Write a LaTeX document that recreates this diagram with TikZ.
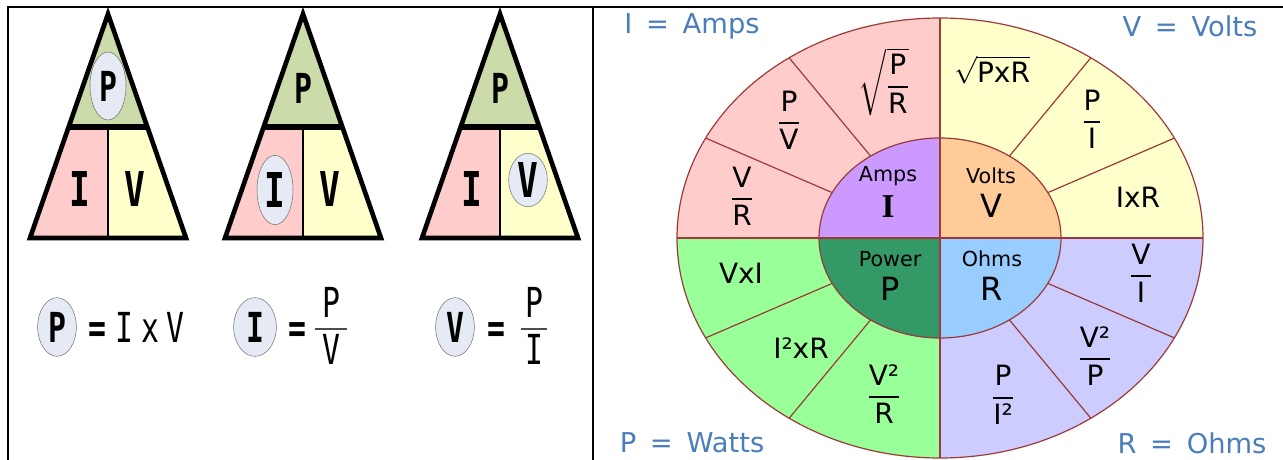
\documentclass[tikz,border=0pt]{standalone}
\usepackage{amsmath}
\usepackage{fontspec}
\setmainfont{DejaVu Sans}
\newfontfamily\monofont[FakeStretch=0.72]{DejaVu Sans Mono}
\newfontfamily\serifbold{Liberation Serif}
\usetikzlibrary{shapes.geometric}

\definecolor{topgreen}{HTML}{CBDBA9}
\definecolor{lowpink}{HTML}{FFCCCC}
\definecolor{lowyellow}{HTML}{FFFFCC}
\definecolor{ringfill}{HTML}{E6EAF4}
\definecolor{wheelred}{HTML}{9C3A3A}
\definecolor{ampsq}{HTML}{FFCCCC}
\definecolor{voltsq}{HTML}{FFFFCC}
\definecolor{wattsq}{HTML}{99FF99}
\definecolor{ohmsq}{HTML}{CCCCFF}
\definecolor{ampsc}{HTML}{CC99FF}
\definecolor{voltsc}{HTML}{FFCC99}
\definecolor{wattsc}{HTML}{339966}
\definecolor{ohmsc}{HTML}{99CCFF}
\definecolor{unitblue}{HTML}{4A7EBB}

\newcommand{\frc}[2]{\genfrac{}{}{1.3pt}{0}{\hbox{#1}}{\hbox{#2}}}

\begin{document}
\begin{tikzpicture}[x=0.75pt,y=0.75pt,
  frame/.style={line width=1.5pt},
  triline/.style={line width=3.5pt,line join=miter},
  trilet/.style={font=\monofont\bfseries\fontsize{36}{36}\selectfont,inner sep=0pt},
  toplet/.style={font=\monofont\bfseries\fontsize{31}{31}\selectfont,inner sep=0pt},
  ringed/.style={ellipse,draw=black!55,fill=ringfill,thin,minimum width=27pt,minimum height=51pt},
  eqlet/.style={font=\monofont\fontsize{31}{31}\selectfont,inner sep=0pt},
  eqbold/.style={font=\monofont\bfseries\fontsize{31}{31}\selectfont,inner sep=0pt},
  smallring/.style={ellipse,draw=black!55,fill=ringfill,thin,minimum width=29pt,minimum height=44pt},
  wline/.style={draw=wheelred,line width=0.9pt},
  sector/.style={font=\fontsize{21}{24}\selectfont,inner sep=0pt},
  core/.style={font=\fontsize{15.5}{18}\selectfont,inner sep=0pt},
  coreletter/.style={font=\fontsize{24}{26}\selectfont,inner sep=0pt},
  unit/.style={font=\fontsize{20.5}{24}\selectfont,text=unitblue,inner sep=0pt}
]
\useasboundingbox (0,0) rectangle (1283,-460);

% table lines
\draw[frame] (8,-460) -- (8,-7) -- (1283,-7);
\draw[frame] (593,-7) -- (593,-460);

% the three triangles
\foreach \cx in {108,303,500}
{
\fill[topgreen] (\cx,-14) -- (\cx-41,-127) -- (\cx+41,-127) -- cycle;
\fill[lowpink] (\cx-41,-127) -- (\cx,-127) -- (\cx,-238) -- (\cx-78,-238) -- cycle;
\fill[lowyellow] (\cx,-127) -- (\cx+41,-127) -- (\cx+78,-238) -- (\cx,-238) -- cycle;
\draw[line width=2.2pt] (\cx,-127) -- (\cx,-238);
\draw[line width=4.5pt] (\cx-41,-127) -- (\cx+41,-127);
\draw[triline] (\cx,-14) -- (\cx+78,-238) -- (\cx-78,-238) -- cycle;
}

% letters in the triangles
\node[toplet,ringed] (t1p) at (108,-86) {P};
\node[trilet] (t1i) at (80,-189) {I};
\node[trilet] (t1v) at (135,-189) {V};
\node[toplet] (t2p) at (303,-88) {P};
\node[trilet,ringed,minimum height=52pt] (t2i) at (275,-190) {I};
\node[trilet] (t2v) at (330,-189) {V};
\node[toplet] (t3p) at (500,-88) {P};
\node[trilet] (t3i) at (472,-189) {I};
\node[trilet,ringed,minimum width=29pt,minimum height=40pt] (t3v) at (528,-180) {V};

% formulas under the triangles
\node[eqbold,smallring] (fp) at (57,-327) {P};
\node[eqbold,anchor=base] (fpeq) at (97,-342) {=};
\node[eqlet,anchor=base] (fpi) at (124,-342) {I};
\node[eqlet,anchor=base] (fpx) at (150,-342) {x};
\node[eqlet,anchor=base] (fpv) at (175,-342) {V};

\node[eqbold,smallring,minimum width=32pt] (fi) at (255,-327) {I};
\node[eqbold,anchor=base] (fieq) at (297,-342) {=};
\node[eqlet,anchor=base] (fin) at (331,-317) {P};
\draw[line width=2pt,black!70] (315,-329) -- (347,-329);
\node[eqlet,anchor=base] (fid) at (331,-364) {V};

\node[eqbold,smallring] (fv) at (455,-327) {V};
\node[eqbold,anchor=base] (fveq) at (496,-342) {=};
\node[eqlet,anchor=base] (fvn) at (534,-317) {P};
\draw[line width=2pt,black!70] (521,-329) -- (547,-329);
\node[eqlet,anchor=base] (fvd) at (534,-364) {I};

% wheel: outer quarters
\fill[ampsq] (940,-238) -- (677,-238) arc[start angle=180,end angle=90,x radius=263,y radius=220] -- cycle;
\fill[voltsq] (940,-238) -- (940,-18) arc[start angle=90,end angle=0,x radius=263,y radius=220] -- cycle;
\fill[wattsq] (940,-238) -- (677,-238) arc[start angle=180,end angle=270,x radius=263,y radius=220] -- cycle;
\fill[ohmsq] (940,-238) -- (940,-458) arc[start angle=270,end angle=360,x radius=263,y radius=220] -- cycle;

% wheel: inner quarters
\fill[ampsc] (940,-238) -- (819,-238) arc[start angle=180,end angle=90,x radius=121,y radius=100] -- cycle;
\fill[voltsc] (940,-238) -- (940,-138) arc[start angle=90,end angle=0,x radius=121,y radius=100] -- cycle;
\fill[wattsc] (940,-238) -- (819,-238) arc[start angle=180,end angle=270,x radius=121,y radius=100] -- cycle;
\fill[ohmsc] (940,-238) -- (940,-338) arc[start angle=270,end angle=360,x radius=121,y radius=100] -- cycle;

% wheel lines
\foreach \t in {27,55,125,153,207,235,305,333}
{
\draw[wline] ({940+121*cos(\t)},{-238+100*sin(\t)}) -- ({940+263*cos(\t)},{-238+220*sin(\t)});
}
\draw[wline] (940,-238) ellipse [x radius=263,y radius=220];
\draw[wline] (940,-238) ellipse [x radius=121,y radius=100];
\draw[wline] (677,-238) -- (1203,-238);
\draw[wline] (940,-18) -- (940,-458);

% centre labels
\node[core] (amps) at (888,-176) {Amps};
\node[coreletter,font=\serifbold\bfseries\fontsize{25}{27}\selectfont] (ampsl) at (888,-207) {I};
\node[core] (volts) at (991,-176) {Volts};
\node[coreletter] (voltsl) at (991,-206) {V};
\node[core] (power) at (890,-259) {Power};
\node[coreletter] (powerl) at (890,-289) {P};
\node[core] (ohms) at (992,-259) {Ohms};
\node[coreletter] (ohmsl) at (992,-289) {R};

% sector formulas
\node[sector] (sqpr) at (884,-82) {$\sqrt{\frc{P}{R}}$};
\node[sector] (pv) at (789,-120) {$\frc{P}{V}$};
\node[sector] (vr) at (742,-196) {$\frc{V}{R}$};
\node[sector] (sqpxr) at (992,-70) {$\sqrt{\hbox{PxR}}$};
\node[sector] (pi) at (1092,-119) {$\frc{P}{I}$};
\node[sector] (ixr) at (1138,-197) {IxR};
\node[sector] (vxi) at (741,-273) {VxI};
\node[sector] (iixr) at (801,-348) {I²xR};
\node[sector] (vvr) at (884,-394) {$\frc{V²}{R}$};
\node[sector] (vi) at (1141,-273) {$\frc{V}{I}$};
\node[sector] (vvp) at (1095,-356) {$\frc{V²}{P}$};
\node[sector] (pii) at (1003,-395) {$\frc{P}{I²}$};

% unit names
\node[unit] (iunit) at (692,-26) {I\enspace=\enspace Amps};
\node[unit] (vunit) at (1190,-26) {V\enspace=\enspace Volts};
\node[unit] (punit) at (692,-443) {P\enspace=\enspace Watts};
\node[unit] (runit) at (1192,-443) {R\enspace=\enspace Ohms};

\end{tikzpicture}
\end{document}
